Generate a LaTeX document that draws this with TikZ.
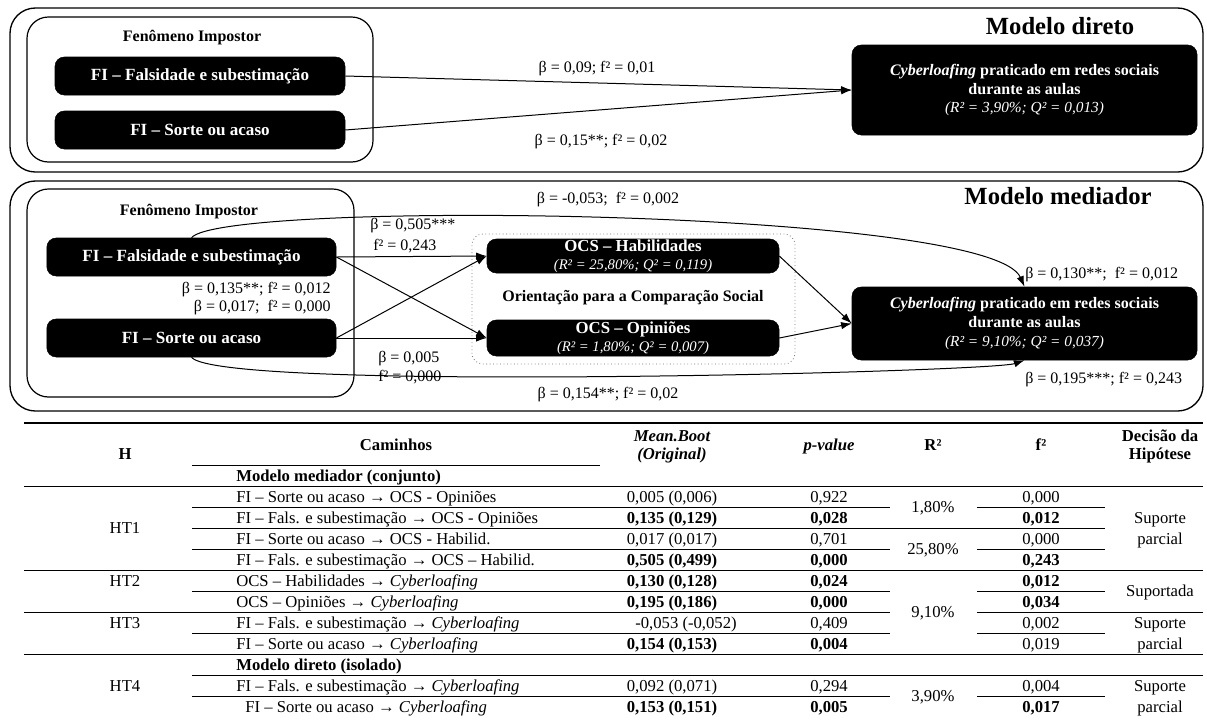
\documentclass[tikz,border=0pt]{standalone}
\usepackage{fontspec}
\setmainfont{Liberation Serif}
\usetikzlibrary{arrows.meta,fit}
\begin{document}
\begin{tikzpicture}[x=0.75pt,y=-0.75pt,
  outerbox/.style={draw, line width=1pt, rounded corners=19pt, inner sep=0pt},
  innerbox/.style={draw, line width=0.9pt, rounded corners=16pt, inner sep=0pt},
  dotbox/.style={draw=black!55, dotted, line width=0.6pt, rounded corners=8pt, inner sep=0pt},
  blackbox/.style={draw, fill=black, text=white, rounded corners=7pt, inner sep=0pt, align=center},
  fitext/.style={font=\fontsize{12.8}{15}\selectfont\bfseries, minimum height=28.5pt},
  cytext/.style={font=\fontsize{12}{14}\selectfont\bfseries, minimum width=258.75pt},
  ocstext/.style={font=\fontsize{12.6}{13.5}\selectfont\bfseries, minimum width=219pt},
  title/.style={font=\fontsize{12}{14}\selectfont\bfseries, inner sep=0pt},
  model/.style={font=\fontsize{18.5}{22}\selectfont\bfseries, inner sep=0pt},
  lbl/.style={font=\fontsize{12}{14}\selectfont, inner sep=0pt},
  arr/.style={-{Latex[length=8pt,width=5.5pt]}, line width=0.75pt},
  tline/.style={line width=0.75pt},
  tf/.style={font=\fontsize{12.5}{15}\selectfont, inner sep=0pt},
  tl/.style={tf, anchor=base west},
  tc/.style={tf, anchor=base},
  tb/.style={font=\fontsize{12.5}{15}\selectfont\bfseries, inner sep=0pt, anchor=base},
]
\useasboundingbox (0,0) rectangle (1207,719);
\fill[white] (0,0) rectangle (1207,719);

% ---------------- Modelo direto ----------------
\node[outerbox, fit={(10,8)(1203,172)}] (outerA) {};
\node[innerbox, fit={(27,17)(373,162)}] (innerA) {};
\node[title] (titA) at (192,38) {Fenômeno Impostor};
\node[blackbox, fitext, minimum width=217.5pt] (faA) at (200,76) {FI – Falsidade e subestimação};
\node[blackbox, fitext, minimum width=217.5pt] (soA) at (200,130) {FI – Sorte ou acaso};
\node[blackbox, cytext, minimum height=67.5pt] (cyA) at (1024.5,90) {\textit{Cyberloafing} praticado em redes sociais\\durante as aulas\\{\normalfont\fontsize{11.5}{14}\selectfont\itshape (R² = 3,90\%; Q² = 0,013)}};
\node[model] (mdA) at (1060,26) {Modelo direto};
\draw[arr] (faA.east) -- (cyA.west);
\draw[arr] (soA.east) -- (cyA.west);
\node[lbl] (lA1) at (597,69) {β = 0,09; f² = 0,01};
\node[lbl] (lA2) at (601,142) {β = 0,15**; f² = 0,02};

% ---------------- Modelo mediador ----------------
\node[outerbox, fit={(10,181)(1203,411)}] (outerB) {};
\node[innerbox, fit={(27,189)(354,397)}] (innerB) {};
\node[title] (titB) at (189,212) {Fenômeno Impostor};
\node[blackbox, fitext, minimum width=217pt] (faB) at (191.5,257) {FI – Falsidade e subestimação};
\node[blackbox, fitext, minimum width=217pt] (soB) at (191.5,338) {FI – Sorte ou acaso};
\node[dotbox, fit={(472,234)(795,364)}] (ocsG) {};
\node[blackbox, ocstext, minimum height=25.5pt] (habB) at (633,256) {OCS – Habilidades\\{\normalfont\fontsize{11}{13.5}\selectfont\itshape (R² = 25,80\%; Q² = 0,119)}};
\node[blackbox, ocstext, minimum height=27pt] (opB) at (633,338) {OCS – Opiniões\\{\normalfont\fontsize{11}{13.5}\selectfont\itshape (R² = 1,80\%; Q² = 0,007)}};
\node[title] (ocsT) at (633,298) {Orientação para a Comparação Social};
\node[blackbox, cytext, minimum height=54.75pt] (cyB) at (1024.5,323.5) {\textit{Cyberloafing} praticado em redes sociais\\durante as aulas\\{\normalfont\fontsize{11.5}{14}\selectfont\itshape (R² = 9,10\%; Q² = 0,037)}};
\node[model] (mdB) at (1058,196) {Modelo mediador};

\draw[arr] (faB.east) -- (habB.west);
\draw[arr] (faB.east) -- (opB.west);
\draw[arr] (soB.east) -- (habB.west);
\draw[arr] (soB.east) -- (opB.west);
\draw[arr] (habB.east) -- (cyB.west);
\draw[arr] (opB.east) -- (cyB.west);
\draw[arr] (faB.north) .. controls (222,200) and (990,208) .. (cyB.north);
\draw[arr] (soB.south) .. controls (220,392) and (990,372) .. (cyB.south);

\node[lbl] (lB1) at (608,200) {β = -0,053;\ \ f² = 0,002};
\node[lbl, anchor=west] (lB2) at (370,226) {β = 0,505***};
\node[lbl, anchor=west] (lB3) at (373,246) {f² = 0,243};
\node[lbl, anchor=east] (lB4) at (331,290) {β = 0,135**; f² = 0,012};
\node[lbl, anchor=east] (lB5) at (331,308) {β = 0,017;\ \ f² = 0,000};
\node[lbl, anchor=west] (lB6) at (378,359) {β = 0,005};
\node[lbl, anchor=west] (lB7) at (378,377) {f² = 0,000};
\node[lbl, anchor=west] (lB8) at (1025,275) {β = 0,130**;\ \ f² = 0,012};
\node[lbl, anchor=west] (lB9) at (1025,380) {β = 0,195***; f² = 0,243};
\node[lbl] (lB10) at (608,395) {β = 0,154**; f² = 0,02};

% ---------------- Table ----------------
\draw[line width=1.1pt] (24,423) -- (1203,423);
\draw[tline] (192,465) -- (600,465);
\draw[tline] (24,486) -- (1203,486);
\draw[tline] (192,507) -- (890,507) (977,507) -- (1105,507);
\draw[tline] (192,528) -- (1105,528);
\draw[tline] (192,549) -- (890,549) (977,549) -- (1105,549);
\draw[tline] (24,570) -- (1203,570);
\draw[tline] (192,591) -- (890,591) (977,591) -- (1105,591);
\draw[tline] (24,612) -- (890,612) (977,612) -- (1203,612);
\draw[tline] (192,633) -- (890,633) (977,633) -- (1105,633);
\draw[tline] (24,654) -- (1203,654);
\draw[tline] (192,675) -- (1203,675);
\draw[tline] (192,696) -- (890,696) (977,696) -- (1105,696);

% header
\node[tb] (hH) at (125,459) {H};
\node[tb] (hC) at (396,450) {Caminhos};
\node[tb, font=\fontsize{12.5}{15}\selectfont\bfseries\itshape] (hM) at (672,441) {Mean.Boot};
\node[tb, font=\fontsize{12.5}{15}\selectfont\bfseries\itshape] (hM2) at (672,459) {(Original)};
\node[tb, font=\fontsize{12.5}{15}\selectfont\bfseries\itshape] (hP) at (829,450) {p-value};
\node[tb] (hR) at (933,450) {R²};
\node[tb] (hF) at (1041,450) {f²};
\node[tb] (hD) at (1160,441) {Decisão da};
\node[tb] (hD2) at (1160,459) {Hipótese};

% H column
\node[tc] (ht1) at (125,533.5) {HT1};
\node[tc] (ht2) at (125,586) {HT2};
\node[tc] (ht3) at (125,628) {HT3};
\node[tc] (ht4) at (125,691) {HT4};

% Caminhos
\node[tl, font=\fontsize{12.5}{15}\selectfont\bfseries] (c0) at (236,481) {Modelo mediador (conjunto)};
\node[tl] (c1) at (236,502) {FI – Sorte ou acaso → OCS - Opiniões};
\node[tl] (c2) at (236,523) {FI – Fals. e subestimação → OCS - Opiniões};
\node[tl] (c3) at (236,544) {FI – Sorte ou acaso → OCS - Habilid.};
\node[tl] (c4) at (236,565) {FI – Fals. e subestimação → OCS – Habilid.};
\node[tl] (c5) at (236,586) {OCS – Habilidades → \textit{Cyberloafing}};
\node[tl] (c6) at (236,607) {OCS – Opiniões → \textit{Cyberloafing}};
\node[tl] (c7) at (236,628) {FI – Fals. e subestimação → \textit{Cyberloafing}};
\node[tl] (c8) at (236,649) {FI – Sorte ou acaso → \textit{Cyberloafing}};
\node[tl, font=\fontsize{12.5}{15}\selectfont\bfseries] (c9) at (236,670) {Modelo direto (isolado)};
\node[tl] (c10) at (236,691) {FI – Fals. e subestimação → \textit{Cyberloafing}};
\node[tl] (c11) at (245,712) {FI – Sorte ou acaso → \textit{Cyberloafing}};

% Mean.Boot
\node[tc] (m1) at (672,502) {0,005 (0,006)};
\node[tb] (m2) at (672,523) {0,135 (0,129)};
\node[tc] (m3) at (672,544) {0,017 (0,017)};
\node[tb] (m4) at (672,565) {0,505 (0,499)};
\node[tb] (m5) at (672,586) {0,130 (0,128)};
\node[tb] (m6) at (672,607) {0,195 (0,186)};
\node[tc] (m7) at (686,628) {-0,053 (-0,052)};
\node[tb] (m8) at (672,649) {0,154 (0,153)};
\node[tc] (m10) at (672,691) {0,092 (0,071)};
\node[tb] (m11) at (672,712) {0,153 (0,151)};

% p-value
\node[tc] (p1) at (829,502) {0,922};
\node[tb] (p2) at (829,523) {0,028};
\node[tc] (p3) at (829,544) {0,701};
\node[tb] (p4) at (829,565) {0,000};
\node[tb] (p5) at (829,586) {0,024};
\node[tb] (p6) at (829,607) {0,000};
\node[tc] (p7) at (829,628) {0,409};
\node[tb] (p8) at (829,649) {0,004};
\node[tc] (p10) at (829,691) {0,294};
\node[tb] (p11) at (829,712) {0,005};

% R2
\node[tc] (r1) at (933,512.5) {1,80\%};
\node[tc] (r2) at (933,554.5) {25,80\%};
\node[tc] (r3) at (933,617.5) {9,10\%};
\node[tc] (r4) at (933,701.5) {3,90\%};

% f2
\node[tc] (f1) at (1041,502) {0,000};
\node[tb] (f2) at (1041,523) {0,012};
\node[tc] (f3) at (1041,544) {0,000};
\node[tb] (f4) at (1041,565) {0,243};
\node[tb] (f5) at (1041,586) {0,012};
\node[tb] (f6) at (1041,607) {0,034};
\node[tc] (f7) at (1041,628) {0,002};
\node[tc] (f8) at (1041,649) {0,019};
\node[tc] (f10) at (1041,691) {0,004};
\node[tb] (f11) at (1041,712) {0,017};

% Decisao
\node[tc] (d1) at (1160,523) {Suporte};
\node[tc] (d1b) at (1160,544) {parcial};
\node[tc] (d2) at (1160,596.5) {Suportada};
\node[tc] (d3) at (1160,628) {Suporte};
\node[tc] (d3b) at (1160,649) {parcial};
\node[tc] (d4) at (1160,691) {Suporte};
\node[tc] (d4b) at (1160,712) {parcial};
\end{tikzpicture}
\end{document}
